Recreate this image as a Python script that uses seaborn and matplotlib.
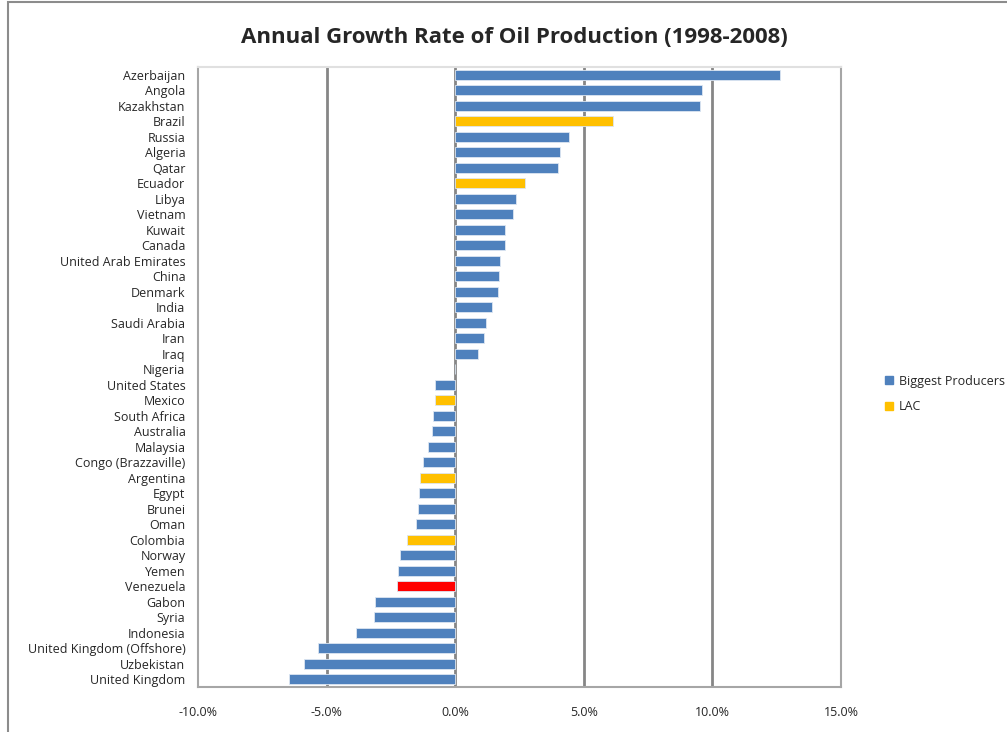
import pandas as pd
import matplotlib
matplotlib.use('Agg')
import matplotlib.pyplot as plt
import seaborn as sns
from matplotlib.patches import Patch, Rectangle
from matplotlib.ticker import PercentFormatter

# Datos (porcentaje anual)
countries = ['Azerbaijan', 'Angola', 'Kazakhstan', 'Brazil', 'Russia', 'Algeria', 'Qatar',
             'Ecuador', 'Libya', 'Vietnam', 'Kuwait', 'Canada', 'United Arab Emirates',
             'China', 'Denmark', 'India', 'Saudi Arabia', 'Iran', 'Iraq', 'Nigeria',
             'United States', 'Mexico', 'South Africa', 'Australia', 'Malaysia',
             'Congo (Brazzaville)', 'Argentina', 'Egypt', 'Brunei', 'Oman', 'Colombia',
             'Norway', 'Yemen', 'Venezuela', 'Gabon', 'Syria', 'Indonesia',
             'United Kingdom (Offshore)', 'Uzbekistan', 'United Kingdom']
growth = [12.62, 9.6, 9.5, 6.13, 4.44, 4.09, 4.01,
          2.71, 2.36, 2.23, 1.93, 1.92, 1.75,
          1.71, 1.67, 1.42, 1.19, 1.11, 0.89, 0.0,
          -0.77, -0.8, -0.86, -0.9, -1.07,
          -1.25, -1.37, -1.42, -1.46, -1.51, -1.89,
          -2.15, -2.24, -2.28, -3.11, -3.15, -3.84,
          -5.34, -5.86, -6.45]
lac = ['Brazil', 'Ecuador', 'Mexico', 'Argentina', 'Colombia']
groups = ['Venezuela' if c == 'Venezuela' else ('LAC' if c in lac else 'Biggest Producers')
          for c in countries]
colors = {'Biggest Producers': '#4F81BD', 'LAC': '#FFC000', 'Venezuela': '#FF0000'}

df = pd.DataFrame({'country': countries, 'growth': growth, 'group': groups})

sns.set_style('white')
plt.rcParams['font.family'] = ['Open Sans', 'DejaVu Sans']
plt.rcParams['axes.unicode_minus'] = False

fig = plt.figure(figsize=(10.07, 7.32), dpi=100)
ax = fig.add_axes([0.1966, 0.0615, 0.6386, 0.847])

sns.barplot(data=df, x='growth', y='country', hue='group', palette=colors, saturation=1,
            dodge=False, legend=False, width=0.65, edgecolor='#dce6f2', linewidth=0.6,
            ax=ax, zorder=3)

ax.set_xlim(-10, 15)
ax.set_xticks([-10, -5, 0, 5, 10, 15])
ax.xaxis.set_major_formatter(PercentFormatter(decimals=1))
ax.set_xlabel('')
ax.set_ylabel('')
ax.tick_params(axis='x', labelsize=9, length=0, pad=14)
ax.tick_params(axis='y', labelsize=9, length=0, pad=9)
for x in [-5, 0, 5, 10]:
    ax.axvline(x, color='#868686', lw=2, zorder=1)
for s in ['left', 'bottom', 'right']:
    ax.spines[s].set_color('#a6a6a6')
    ax.spines[s].set_linewidth(1.5)
ax.spines['top'].set_color('#e0e0e0')
ax.spines['top'].set_linewidth(1.5)

fig.suptitle('Annual Growth Rate of Oil Production (1998-2008)', x=0.511, y=0.963,
             fontsize=16, fontweight='bold')

handles = [Patch(color=colors['Biggest Producers'], label='Biggest Producers'),
           Patch(color=colors['LAC'], label='LAC')]
fig.legend(handles=handles, loc='center left', bbox_to_anchor=(0.868, 0.462),
           frameon=False, fontsize=9, handlelength=0.6, handleheight=0.6,
           handletextpad=0.5, labelspacing=1.0)

# marco exterior de la grafica
fig.patches.append(Rectangle((8 / 1007, -0.05), 1.2, 1.047, transform=fig.transFigure,
                             fill=False, edgecolor='#8c8c8c', lw=1.5))

fig.savefig('out.png', dpi=100)
